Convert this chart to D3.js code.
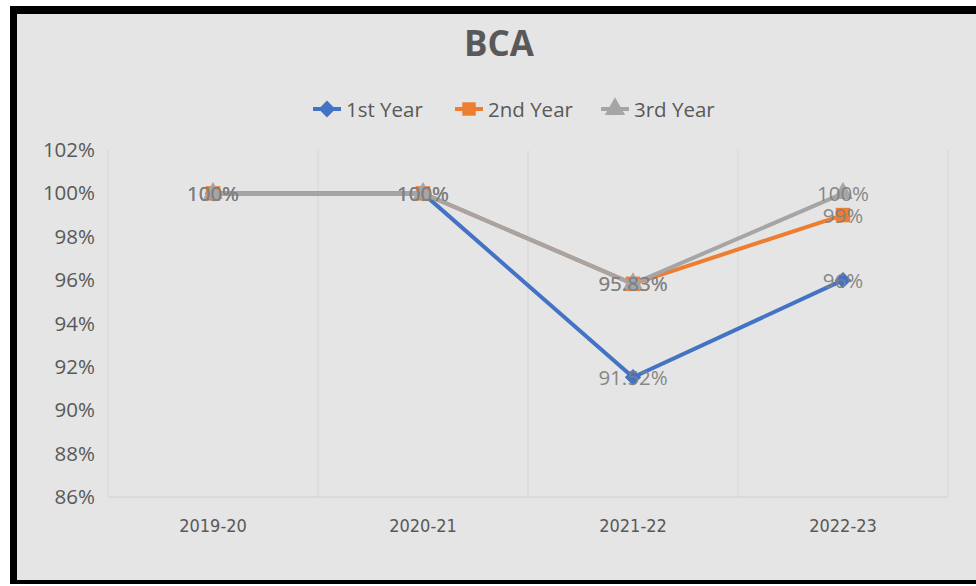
<!DOCTYPE html>
<html>
<head>
<meta charset="utf-8">
<script src="https://cdn.jsdelivr.net/npm/d3@7"></script>
<style>
  body { margin: 0; background: #fff; }
  svg text { font-family: "Open Sans", "Noto Sans", sans-serif; }
</style>
</head>
<body>
<div id="chart"></div>
<script>
const categories = ['2019-20', '2020-21', '2021-22', '2022-23'];
const seriesNames = ['1st Year', '2nd Year', '3rd Year'];
const firstYear = [100, 100, 91.52, 96];
const secondYear = [100, 100, 95.83, 99];
const thirdYear = [100, 100, 95.83, 100];
const valueLabels = [
  ['100%', '100%', '91.52%', '96%'],
  ['100%', '100%', '95.83%', '99%'],
  ['100%', '100%', '95.83%', '100%']
];
const yTicks = [86, 88, 90, 92, 94, 96, 98, 100, 102];

const colors = ['#4472c4', '#ed7d31', '#a5a5a5'];
const symbols = [d3.symbolDiamond2, d3.symbolSquare, d3.symbolTriangle];
const allSeries = [firstYear, secondYear, thirdYear];

const width = 976, height = 586;
const svg = d3.select('#chart').append('svg')
  .attr('width', width)
  .attr('height', height);

// frame
svg.append('rect').attr('x', 10).attr('y', 6).attr('width', width - 10).attr('height', 578)
  .attr('fill', '#000');
svg.append('rect').attr('x', 17).attr('y', 14).attr('width', width - 17).attr('height', 566)
  .attr('fill', '#e5e5e5');

const plot = { left: 108, right: 948, top: 150, bottom: 497 };

const x = d3.scaleBand().domain(categories).range([plot.left, plot.right]);
const y = d3.scaleLinear().domain([86, 102]).range([plot.bottom, plot.top]);

// title
svg.append('text')
  .attr('x', 499).attr('y', 56)
  .attr('text-anchor', 'middle')
  .attr('font-size', 35).attr('font-weight', 'bold')
  .attr('fill', '#595959')
  .text('BCA');

// gridlines (category boundaries)
const bounds = categories.map(c => x(c)).concat([plot.right]);
svg.append('g').selectAll('line').data(bounds).enter().append('line')
  .attr('x1', d => d).attr('x2', d => d)
  .attr('y1', plot.top).attr('y2', plot.bottom)
  .attr('stroke', '#d6d6d6').attr('stroke-width', 1);

svg.append('line')
  .attr('x1', plot.left).attr('x2', plot.right)
  .attr('y1', plot.bottom).attr('y2', plot.bottom)
  .attr('stroke', '#d0d0d0').attr('stroke-width', 1);

// y axis labels
const yAxis = svg.append('g')
  .attr('transform', `translate(${plot.left - 13},0)`)
  .call(d3.axisLeft(y).tickValues(yTicks).tickFormat(d => d + '%').tickSize(0).tickPadding(0));
yAxis.select('.domain').remove();
yAxis.selectAll('text')
  .attr('font-size', 20.5).attr('fill', '#595959')
  .style('font-family', '"Open Sans", sans-serif');

// x axis labels
const xAxis = svg.append('g')
  .attr('transform', `translate(0,${plot.bottom})`)
  .call(d3.axisBottom(x).tickSize(0).tickPadding(22));
xAxis.select('.domain').remove();
xAxis.selectAll('text')
  .attr('font-size', 18).attr('fill', '#595959')
  .style('font-family', '"Liberation Sans Narrow", "DejaVu Sans Condensed", sans-serif');

// lines and markers
const line = d3.line()
  .x((d, i) => x(categories[i]) + x.bandwidth() / 2)
  .y(d => y(d));

allSeries.forEach((vals, s) => {
  svg.append('path')
    .datum(vals)
    .attr('d', line)
    .attr('fill', 'none')
    .attr('stroke', colors[s])
    .attr('stroke-width', 4)
    .attr('stroke-linejoin', 'round');
  svg.append('g').selectAll('path').data(vals).enter().append('path')
    .attr('transform', (d, i) => `translate(${x(categories[i]) + x.bandwidth() / 2},${y(d)})`)
    .attr('d', d3.symbol().type(symbols[s]).size(s === 1 ? 210 : 170))
    .attr('fill', colors[s]);
});

// data labels
allSeries.forEach((vals, s) => {
  svg.append('g').selectAll('text').data(vals).enter().append('text')
    .attr('x', (d, i) => x(categories[i]) + x.bandwidth() / 2)
    .attr('y', d => y(d) + 7.5)
    .attr('text-anchor', 'middle')
    .attr('font-size', 20.5)
    .attr('fill', '#808080')
    .attr('fill-opacity', 0.95)
    .text((d, i) => valueLabels[s][i]);
});

// legend
const legendX = [313, 455, 601];
const legend = svg.append('g');
seriesNames.forEach((name, s) => {
  const g = legend.append('g').attr('transform', `translate(${legendX[s]},109)`);
  g.append('line').attr('x1', 0).attr('x2', 28).attr('y1', 0).attr('y2', 0)
    .attr('stroke', colors[s]).attr('stroke-width', 4);
  g.append('path')
    .attr('transform', 'translate(14,0)')
    .attr('d', d3.symbol().type(symbols[s]).size(180))
    .attr('fill', colors[s]);
  g.append('text').attr('x', 33).attr('y', 7.5)
    .attr('font-size', 20.5).attr('fill', '#595959')
    .text(name);
});
</script>
</body>
</html>
